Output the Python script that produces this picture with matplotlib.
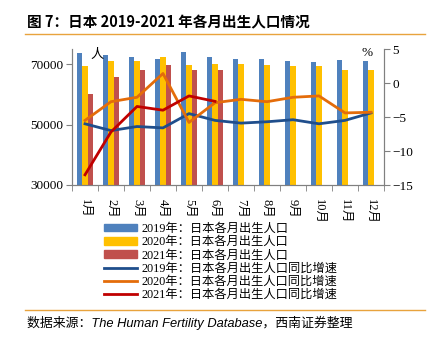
import numpy as np
import matplotlib.pyplot as plt
from matplotlib.patches import Patch
from matplotlib.lines import Line2D

months = ["1月", "2月", "3月", "4月", "5月", "6月", "7月", "8月", "9月", "10月", "11月", "12月"]

births_2019 = [73700, 73000, 72500, 71700, 74100, 72500, 71700, 71700, 71000, 70600, 71300, 71000]
births_2020 = [69400, 71000, 71000, 72500, 69700, 70100, 70100, 69700, 69300, 69300, 68100, 68100]
births_2021 = [60200, 65700, 68100, 69800, 68100, 68200]

yoy_2019 = [-6.0, -7.0, -6.4, -6.6, -4.5, -5.5, -5.9, -5.7, -5.4, -6.0, -5.5, -4.4]
yoy_2020 = [-5.5, -2.75, -2.1, 1.4, -5.8, -2.9, -2.4, -2.75, -2.1, -1.9, -4.4, -4.3]
yoy_2021 = [-13.5, -7.2, -3.45, -4.0, -1.9, -2.7]

bar_labels = ["2019年：日本各月出生人口", "2020年：日本各月出生人口", "2021年：日本各月出生人口"]
line_labels = ["2019年：日本各月出生人口同比增速", "2020年：日本各月出生人口同比增速",
               "2021年：日本各月出生人口同比增速"]

bar_colors = ["#4F81BD", "#FFC000", "#C0504D"]
line_colors = ["#1F4E8C", "#E46C0A", "#C00000"]

serif = ["Liberation Serif", "Noto Sans CJK SC"]
cjk = ["Noto Sans CJK SC", "DejaVu Sans"]
plt.rcParams["font.family"] = serif

fig = plt.figure(figsize=(4.33, 3.4), dpi=100)
ax = fig.add_axes([72 / 433, 1 - 185 / 340, 312 / 433, 136 / 340])
ax2 = ax.twinx()

x = np.arange(len(months))
w = 0.22
for i, (vals, c) in enumerate(zip([births_2019, births_2020, births_2021], bar_colors)):
    xi = np.arange(len(vals))
    ax.bar(xi + (i - 1) * w, vals, width=w * 0.95, color=c, zorder=2)

for vals, c in zip([yoy_2019, yoy_2020, yoy_2021], line_colors):
    ax2.plot(np.arange(len(vals)), vals, color=c, lw=2, zorder=3)

ax.set_xlim(-0.5, 11.5)
ax.set_ylim(30000, 75000)
ax.set_yticks([30000, 50000, 70000])
ax2.set_ylim(-15, 5)
ax2.set_yticks([-15, -10, -5, 0, 5])
ax2.set_yticklabels(["−15", "−10", "−5", "0", "5"])

ax.set_xticks(x)
ax.set_xticklabels(months, rotation=270, fontsize=9)
ax.set_xticks(np.arange(-0.5, 12, 1), minor=True)
ax.tick_params(axis="x", which="major", length=0, pad=10)
ax.tick_params(axis="x", which="minor", length=4, color="#808080")
ax.tick_params(axis="y", length=4, color="#808080", labelsize=9.5, pad=2)
ax2.tick_params(axis="y", length=4, color="#808080", labelsize=9.5, pad=2)

for a in (ax, ax2):
    a.spines["top"].set_visible(False)
    for s in ("left", "right", "bottom"):
        a.spines[s].set_color("#808080")

ax.text(0.058, 1.01, "人", transform=ax.transAxes, fontsize=9.5, family=cjk,
        va="top", ha="left")
ax2.text(0.962, 1.015, "%", transform=ax.transAxes, fontsize=9.5, va="top", ha="right")

handles = [Patch(color=c) for c in bar_colors] + \
          [Line2D([0], [0], color=c, lw=2) for c in line_colors]
fig.legend(handles, bar_labels + line_labels, loc="upper left",
           bbox_to_anchor=(104 / 433, 1 - 223 / 340), frameon=False,
           prop={"family": serif, "size": 8.8}, handlelength=2.7, handleheight=0.55,
           handletextpad=0.35, labelspacing=0.1, borderaxespad=0, borderpad=0)

fig.text(27 / 433, 1 - 22 / 340, "图 7：日本 2019-2021 年各月出生人口情况",
         fontsize=10.5, fontweight="bold", family=cjk, va="center", ha="left")
fig.add_artist(Line2D([25 / 433, 425 / 433], [1 - 34 / 340, 1 - 34 / 340],
                      color="#E8A33D", lw=1))
fig.add_artist(Line2D([25 / 433, 425 / 433], [1 - 310 / 340, 1 - 310 / 340],
                      color="#E8A33D", lw=1))
fig.text(27 / 433, 1 - 323 / 340, "数据来源：The Human Fertility Database，西南证券整理",
         fontsize=9.3, style="italic", family=["Liberation Sans", "Noto Sans CJK SC"],
         va="center", ha="left")

fig.savefig("out.png", dpi=100)
